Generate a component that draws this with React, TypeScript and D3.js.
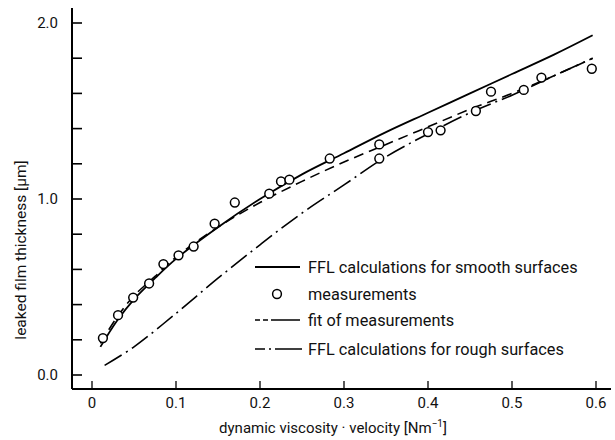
import React from "react";
import * as d3 from "d3";

const measX = [0.013, 0.031, 0.049, 0.068, 0.085, 0.103, 0.121, 0.146, 0.17, 0.211, 0.225, 0.235, 0.283, 0.342, 0.342, 0.4, 0.415, 0.457, 0.475, 0.514, 0.535, 0.595];
const measY = [0.21, 0.34, 0.44, 0.52, 0.63, 0.68, 0.73, 0.86, 0.98, 1.03, 1.1, 1.11, 1.23, 1.31, 1.23, 1.38, 1.39, 1.5, 1.61, 1.62, 1.69, 1.74];

const smoothX = [0.01, 0.03, 0.05, 0.075, 0.1, 0.15, 0.2, 0.25, 0.3, 0.35, 0.4, 0.45, 0.5, 0.55, 0.596];
const smoothY = [0.16, 0.31, 0.43, 0.55, 0.66, 0.84, 1.0, 1.14, 1.26, 1.38, 1.49, 1.6, 1.71, 1.82, 1.93];

const fitX = [0.01, 0.03, 0.05, 0.075, 0.1, 0.15, 0.2, 0.25, 0.3, 0.35, 0.4, 0.45, 0.5, 0.55, 0.596];
const fitY = [0.18, 0.33, 0.45, 0.56, 0.67, 0.84, 0.98, 1.1, 1.21, 1.31, 1.41, 1.51, 1.6, 1.7, 1.8];

const roughX = [0.015, 0.05, 0.1, 0.15, 0.2, 0.25, 0.3, 0.35, 0.4, 0.45, 0.5, 0.55, 0.596];
const roughY = [0.055, 0.16, 0.35, 0.55, 0.74, 0.92, 1.08, 1.24, 1.37, 1.49, 1.59, 1.7, 1.8];

const xTicks = [0, 0.1, 0.2, 0.3, 0.4, 0.5, 0.6];
const xTickLabels = ["0", "0.1", "0.2", "0.3", "0.4", "0.5", "0.6"];
const yTicks = [0, 0.2, 0.4, 0.6, 0.8, 1.0, 1.2, 1.4, 1.6, 1.8, 2.0];
const yTickLabels = ["0.0", "", "", "", "", "1.0", "", "", "", "", "2.0"];

const legendLabels = [
  "FFL calculations for smooth surfaces",
  "measurements",
  "fit of measurements",
  "FFL calculations for rough surfaces",
];

const FONT = "Roboto, 'DejaVu Sans', sans-serif";

export default function App() {
  const x = d3.scaleLinear().domain([0, 0.6]).range([92, 596]);
  const y = d3.scaleLinear().domain([0, 2]).range([375, 23]);
  const line = d3
    .line<[number, number]>()
    .x((d) => x(d[0]))
    .y((d) => y(d[1]))
    .curve(d3.curveCatmullRom.alpha(0.5));
  const zip = (a: number[], b: number[]) => a.map((v, i) => [v, b[i]] as [number, number]);

  const axisX0 = 72;
  const axisY0 = 389;

  return (
    <svg
      width={615}
      height={440}
      style={{ position: "absolute", left: 0, top: 0, background: "#fff" }}
      fontFamily={FONT}
    >
      <rect width={615} height={440} fill="#fff" />
      {/* axes */}
      <line x1={axisX0} y1={8} x2={axisX0} y2={axisY0} stroke="#000" strokeWidth={2} />
      <line x1={axisX0} y1={axisY0} x2={611} y2={axisY0} stroke="#000" strokeWidth={2} />
      {yTicks.map((t, i) => (
        <g key={"yt" + i}>
          <line x1={axisX0} x2={axisX0 + 10} y1={y(t)} y2={y(t)} stroke="#000" strokeWidth={1.6} />
          {yTickLabels[i] && (
            <text x={58} y={y(t)} dy="0.35em" textAnchor="end" fontSize={15} fill="#111">
              {yTickLabels[i]}
            </text>
          )}
        </g>
      ))}
      {xTicks.map((t, i) => (
        <g key={"xt" + i}>
          <line x1={x(t)} x2={x(t)} y1={axisY0} y2={axisY0 - 8} stroke="#000" strokeWidth={1.3} />
          <text x={x(t)} y={408} textAnchor="middle" fontSize={15} fill="#111">
            {xTickLabels[i]}
          </text>
        </g>
      ))}
      <text
        transform={`translate(26,250) rotate(-90)`}
        textAnchor="middle"
        fontSize={15.5}
        fill="#111"
      >
        leaked film thickness [µm]
      </text>
      <text x={333} y={433} textAnchor="middle" fontSize={15} fill="#111">
        dynamic viscosity · velocity [Nm
        <tspan dy={-6} fontSize={10}>−1</tspan>
        <tspan dy={6}>]</tspan>
      </text>

      {/* curves */}
      <path d={line(zip(smoothX, smoothY)) || ""} fill="none" stroke="#000" strokeWidth={1.8} />
      <path
        d={line(zip(fitX, fitY)) || ""}
        fill="none"
        stroke="#000"
        strokeWidth={1.6}
        strokeDasharray="10,6"
      />
      <path
        d={line(zip(roughX, roughY)) || ""}
        fill="none"
        stroke="#000"
        strokeWidth={1.6}
        strokeDasharray="20,5,2,5"
      />
      {measX.map((v, i) => (
        <circle key={"m" + i} cx={x(v)} cy={y(measY[i])} r={4.4} fill="#fff" stroke="#000" strokeWidth={1.5} />
      ))}

      {/* legend */}
      <line x1={255} x2={300} y1={267} y2={267} stroke="#000" strokeWidth={1.8} />
      <circle cx={277} cy={294} r={4.4} fill="#fff" stroke="#000" strokeWidth={1.5} />
      <line x1={255} x2={300} y1={320} y2={320} stroke="#000" strokeWidth={1.6} strokeDasharray="5,3,5,3,30" />
      <line x1={255} x2={302} y1={349} y2={349} stroke="#000" strokeWidth={1.6} strokeDasharray="10,4,2,4,30" />
      {legendLabels.map((l, i) => (
        <text key={"l" + i} x={308} y={[267, 294, 320, 349][i]} dy="0.35em" fontSize={16.3} fill="#111">
          {l}
        </text>
      ))}
    </svg>
  );
}
